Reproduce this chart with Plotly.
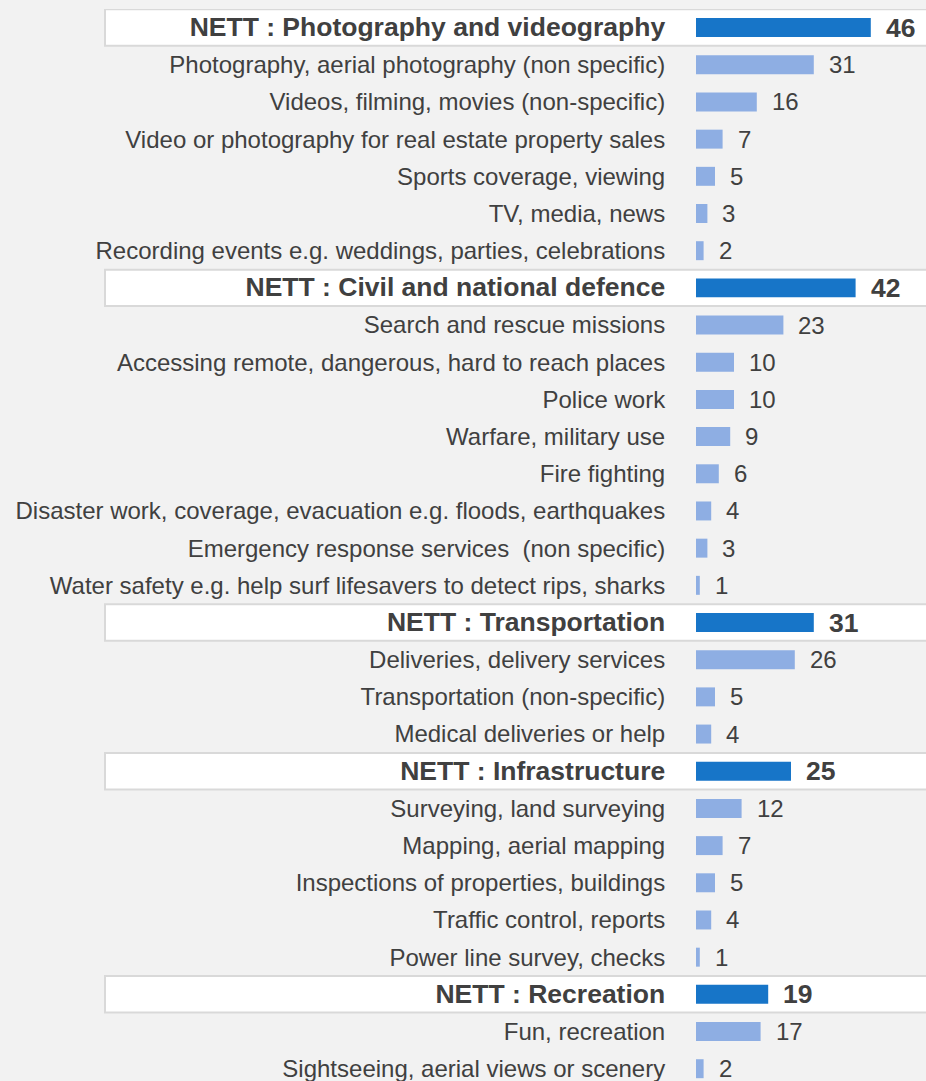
import plotly.graph_objects as go

# Survey categories (NETT rows are group totals) and their percentages
labels = [
    "NETT : Photography and videography",
    "Photography, aerial photography (non specific)",
    "Videos, filming, movies (non-specific)",
    "Video or photography for real estate property sales",
    "Sports coverage, viewing",
    "TV, media, news",
    "Recording events e.g. weddings, parties, celebrations",
    "NETT : Civil and national defence",
    "Search and rescue missions",
    "Accessing remote, dangerous, hard to reach places",
    "Police work",
    "Warfare, military use",
    "Fire fighting",
    "Disaster work, coverage, evacuation e.g. floods, earthquakes",
    "Emergency response services  (non specific)",
    "Water safety e.g. help surf lifesavers to detect rips, sharks",
    "NETT : Transportation",
    "Deliveries, delivery services",
    "Transportation (non-specific)",
    "Medical deliveries or help",
    "NETT : Infrastructure",
    "Surveying, land surveying",
    "Mapping, aerial mapping",
    "Inspections of properties, buildings",
    "Traffic control, reports",
    "Power line survey, checks",
    "NETT : Recreation",
    "Fun, recreation",
    "Sightseeing, aerial views or scenery",
]
values = [46, 31, 16, 7, 5, 3, 2,
          42, 23, 10, 10, 9, 6, 4, 3, 1,
          31, 26, 5, 4,
          25, 12, 7, 5, 4, 1,
          19, 17, 2]

is_nett = [lab.startswith("NETT") for lab in labels]

NETT_COLOR = "#1775C8"
SUB_COLOR = "#8EAEE3"
TEXT_COLOR = "#404040"
BG = "#F2F2F2"
FONT = "Liberation Sans, Arial, sans-serif"
SIZE_REG = 24
SIZE_BOLD = 26.5

W, H = 926, 1081
LEFT = 696          # pixel where bars start
PX_PER_UNIT = 3.8
TOP = 8.5
ROW = 37.2
plot_w = W - LEFT
plot_h = H - TOP
x_max = plot_w / PX_PER_UNIT
y_end = -0.5 + plot_h / ROW

fig = go.Figure()
fig.add_trace(go.Bar(
    x=values,
    y=labels,
    orientation="h",
    marker=dict(color=[NETT_COLOR if n else SUB_COLOR for n in is_nett], line=dict(width=0)),
    hoverinfo="skip",
    showlegend=False,
))

# white bands behind the NETT rows
shapes = []
for i, n in enumerate(is_nett):
    if n:
        shapes.append(dict(
            type="rect", xref="paper", yref="y",
            x0=(105 - LEFT) / plot_w, x1=1.05,
            y0=i - 0.49, y1=i + 0.49,
            fillcolor="white", line=dict(color="#D9D9D9", width=2),
            layer="below",
        ))

# value labels after each bar
annotations = []
for lab, v, n in zip(labels, values, is_nett):
    annotations.append(dict(
        x=v, y=lab, xref="x", yref="y",
        text=f"<b>{v}</b>" if n else str(v),
        showarrow=False, xanchor="left", yanchor="middle",
        xshift=13,
        font=dict(family=FONT, size=SIZE_BOLD if n else SIZE_REG, color=TEXT_COLOR),
    ))

ticktext = [
    f"<span style='font-size:{SIZE_BOLD}px'><b>{lab}</b></span>" if n else lab
    for lab, n in zip(labels, is_nett)
]

fig.update_layout(
    width=W, height=H,
    margin=dict(l=LEFT, r=0, t=TOP, b=0, pad=0),
    paper_bgcolor=BG,
    plot_bgcolor="rgba(0,0,0,0)",
    bargap=0.49,
    shapes=shapes,
    annotations=annotations,
    font=dict(family=FONT, size=SIZE_REG, color=TEXT_COLOR),
    xaxis=dict(range=[0, x_max], visible=False, fixedrange=True),
    yaxis=dict(
        type="category",
        categoryorder="array", categoryarray=labels,
        range=[y_end, -0.5],
        tickvals=labels, ticktext=ticktext,
        ticks="outside", ticklen=25, tickcolor="rgba(0,0,0,0)",
        showgrid=False, zeroline=False, showline=False,
        automargin=False,
        tickfont=dict(family=FONT, size=SIZE_REG, color=TEXT_COLOR),
    ),
)

fig.write_html("out.html")
